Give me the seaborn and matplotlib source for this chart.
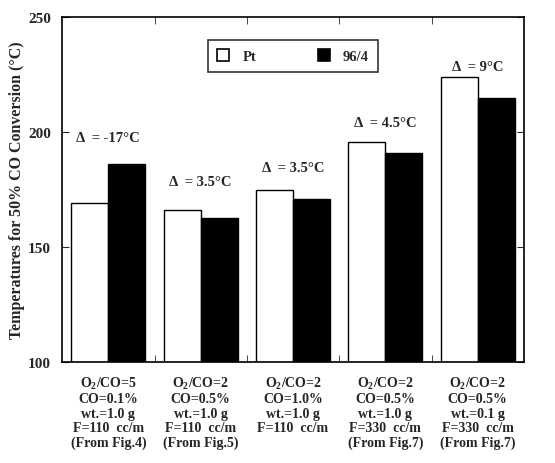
import matplotlib
matplotlib.use("Agg")
import matplotlib.pyplot as plt
import seaborn as sns
import pandas as pd
from matplotlib.patches import Patch
from matplotlib.ticker import FixedLocator

categories = [
    "O$_2$/CO=5\nCO=0.1%\nwt.=1.0 g\nF=110  cc/m\n(From Fig.4)",
    "O$_2$/CO=2\nCO=0.5%\nwt.=1.0 g\nF=110  cc/m\n(From Fig.5)",
    "O$_2$/CO=2\nCO=1.0%\nwt.=1.0 g\nF=110  cc/m\n",
    "O$_2$/CO=2\nCO=0.5%\nwt.=1.0 g\nF=330  cc/m\n(From Fig.7)",
    "O$_2$/CO=2\nCO=0.5%\nwt.=0.1 g\nF=330  cc/m\n(From Fig.7)",
]
series_names = ["Pt", "96/4"]
pt_values = [169, 166, 175, 195.5, 224]
alloy_values = [186, 162.5, 171, 191, 215]
delta_labels = ["\u0394  = -17\u00b0C", "\u0394  = 3.5\u00b0C", "\u0394  = 3.5\u00b0C",
                "\u0394  = 4.5\u00b0C", "\u0394  = 9\u00b0C"]
delta_y = [197.5, 178.5, 184.5, 204, 228.7]
y_ticks = [100, 150, 200, 250]

sns.set_style("ticks")
plt.rcParams['font.family'] = ['Liberation Serif', 'DejaVu Serif']
plt.rcParams['font.weight'] = 'bold'
plt.rcParams['mathtext.fontset'] = 'custom'
plt.rcParams['mathtext.rm'] = 'Liberation Serif:bold'
plt.rcParams['mathtext.it'] = 'Liberation Serif:bold'
plt.rcParams['mathtext.bf'] = 'Liberation Serif:bold'
plt.rcParams['mathtext.default'] = 'rm'

df = pd.DataFrame({
    "cond": categories * 2,
    "series": [series_names[0]] * 5 + [series_names[1]] * 5,
    "value": pt_values + alloy_values,
})

fig = plt.figure(figsize=(5.55, 4.64), dpi=100)
ax = fig.add_axes([0.112, 0.2177, 0.832, 0.7433])

sns.barplot(data=df, x="cond", y="value", hue="series", palette=["white", "black"],
            edgecolor="black", linewidth=1.0, width=0.8, ax=ax, legend=False,
            bottom=0)

ax.set_ylim(100, 250)
ax.set_xlim(-0.5, 4.5)
ax.set_yticks(y_ticks)
ax.set_yticklabels([str(v) for v in y_ticks], fontsize=11, fontweight='bold')
ax.set_xticks(range(5))
ax.set_xticklabels(categories, fontsize=10, fontweight='bold', linespacing=1.15)
ax.xaxis.set_minor_locator(FixedLocator([0.5, 1.5, 2.5, 3.5]))
ax.tick_params(axis='x', which='major', length=0, pad=9)
ax.tick_params(axis='x', which='minor', direction='in', length=5, top=True, bottom=True)
ax.tick_params(axis='y', which='major', direction='in', length=5, left=True, right=True, pad=8)
ax.set_xlabel("")
ax.set_ylabel("Temperatures for 50% CO Conversion (\u00b0C)", fontsize=11.5, fontweight='bold')
ax.yaxis.set_label_coords(-0.08, 0.5)
for s in ax.spines.values():
    s.set_visible(True)
    s.set_linewidth(1.2)
    s.set_color("black")

for i, (lab, yy) in enumerate(zip(delta_labels, delta_y)):
    ax.text(i, yy, lab, ha='center', va='center', fontsize=10.5, fontweight='bold')

handles = [Patch(facecolor='white', edgecolor='black', linewidth=1.2),
           Patch(facecolor='black', edgecolor='black', linewidth=1.2)]
leg = ax.legend(handles, series_names, loc='center', bbox_to_anchor=(0.5, 0.887),
                ncol=2, frameon=True, fancybox=False, handlelength=0.85, handleheight=0.85,
                columnspacing=4.2, handletextpad=0.9, borderpad=0.6, borderaxespad=0,
                prop={'family': 'Liberation Serif', 'weight': 'bold', 'size': 10.5})
leg.get_frame().set_edgecolor('black')
leg.get_frame().set_linewidth(1.2)

fig.savefig("out.png", dpi=100)
